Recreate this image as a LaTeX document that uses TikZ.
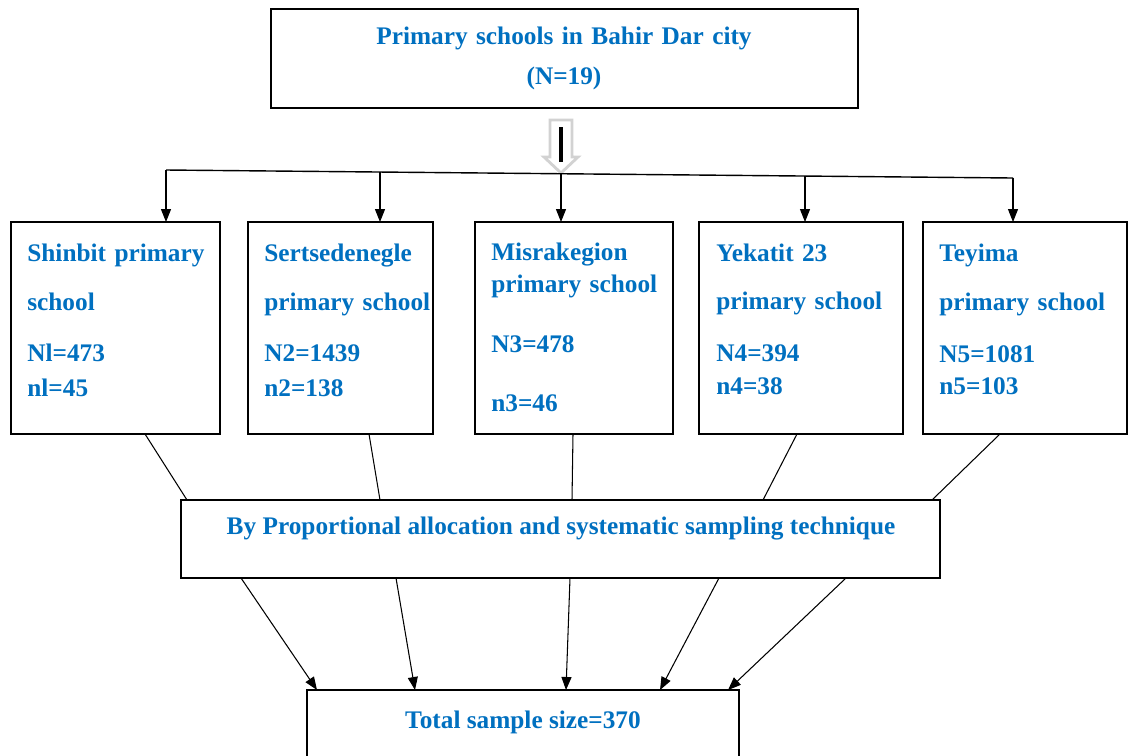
\documentclass[tikz,border=0pt]{standalone}
\usepackage{fontspec}
\setmainfont{Liberation Serif}
\usepackage{xcolor}
\usepackage{tikz}
\usetikzlibrary{arrows.meta}
\definecolor{labelblue}{HTML}{0070C0}

\begin{document}
\begin{tikzpicture}
            [x=0.02cm,y=-0.02cm,
             box/.style={draw, line width=0.9pt, inner sep=0pt, outer sep=0pt},
             txt/.style={text=labelblue, font=\fontsize{14.4}{17}\selectfont\bfseries, inner sep=0pt},
             arr/.style={-{Triangle[length=0.26cm,width=0.2cm]}, line width=0.6pt}]
            \useasboundingbox (0,0) rectangle (1129,755);
            \fill[white] (0,0) rectangle (1129,755);

            \node[box, minimum width=11.74cm, minimum height=1.98cm] (city) at (564.5,58.5) {};
            \node[txt, text width=11cm, align=center, anchor=base] (citytxt) at (564,44) {Primary schools in Bahir Dar city\\[0.22cm](N=19)};

            \draw[gray!35, line width=1.6pt, fill=white] (550,120) -- (572,120) -- (572,157) -- (578,157) -- (561,173) -- (544,157) -- (550,157) -- cycle;
            \draw[line width=2.2pt] (561,127) -- (561,162);

            \coordinate (b1) at (166,170);
            \coordinate (b2) at (380,172);
            \coordinate (b3) at (561,173.7);
            \coordinate (b4) at (805,176);
            \coordinate (b5) at (1013,178);
            \draw[line width=0.8pt] (b1) -- (b5);

            \node[box, minimum width=4.18cm, minimum height=4.24cm] (sch1) at (115.5,328) {};
            \node[box, minimum width=3.7cm, minimum height=4.24cm] (sch2) at (340.5,328) {};
            \node[box, minimum width=3.96cm, minimum height=4.24cm] (sch3) at (574,328) {};
            \node[box, minimum width=4.08cm, minimum height=4.24cm] (sch4) at (801,328) {};
            \node[box, minimum width=4.08cm, minimum height=4.24cm] (sch5) at (1025,328) {};

            \node[txt, text width=4cm, align=left, anchor=base west] (lab1) at (27,261) {Shinbit primary\\[0.4cm]school\\[0.42cm]Nl=473\\[0.1cm]nl=45};
            \node[txt, text width=4cm, align=left, anchor=base west] (lab2) at (264,261) {Sertsedenegle\\[0.4cm]primary school\\[0.42cm]N2=1439\\[0.1cm]n2=138};
            \node[txt, text width=4cm, align=left, anchor=base west] (lab3) at (491,260) {Misrakegion\\[0.06cm]primary school\\[0.6cm]N3=478\\[0.58cm]n3=46};
            \node[txt, text width=4cm, align=left, anchor=base west] (lab4) at (716,261) {Yekatit 23\\[0.38cm]primary school\\[0.44cm]N4=394\\[0.06cm]n4=38};
            \node[txt, text width=4cm, align=left, anchor=base west] (lab5) at (939,261) {Teyima\\[0.4cm]primary school\\[0.44cm]N5=1081\\[0.04cm]n5=103};

            \node[box, minimum width=15.18cm, minimum height=1.56cm] (alloc) at (560.5,539) {};
            \node[txt, anchor=base] (alloctxt) at (561,534) {By Proportional allocation and systematic sampling technique};

            \node[box, minimum width=8.64cm, minimum height=2cm] (total) at (523,740) {};
            \node[txt, anchor=base] (totaltxt) at (523,728) {Total sample size=370};

            \foreach \b/\s in {b1/sch1, b2/sch2, b3/sch3, b4/sch4, b5/sch5}
            \draw[arr] (\b) -- (\b |- \s.north);

            \foreach \s/\a/\c in {sch1/29.5/-373.5, sch2/28.5/-180.5, sch3/-1/11.5, sch4/-4/202.5, sch5/-25/371.5}
            \draw[line width=0.6pt] ([shift={(\a,0)}]\s.south) -- ([shift={(\c,0)}]alloc.north);

            \foreach \a/\c in {-319.5/-206, -164.5/-108, 9.5/43, 158.5/137, 285.5/205}
            \draw[arr] ([shift={(\a,0)}]alloc.south) -- ([shift={(\c,0)}]total.north);
          \end{tikzpicture}
\end{document}
